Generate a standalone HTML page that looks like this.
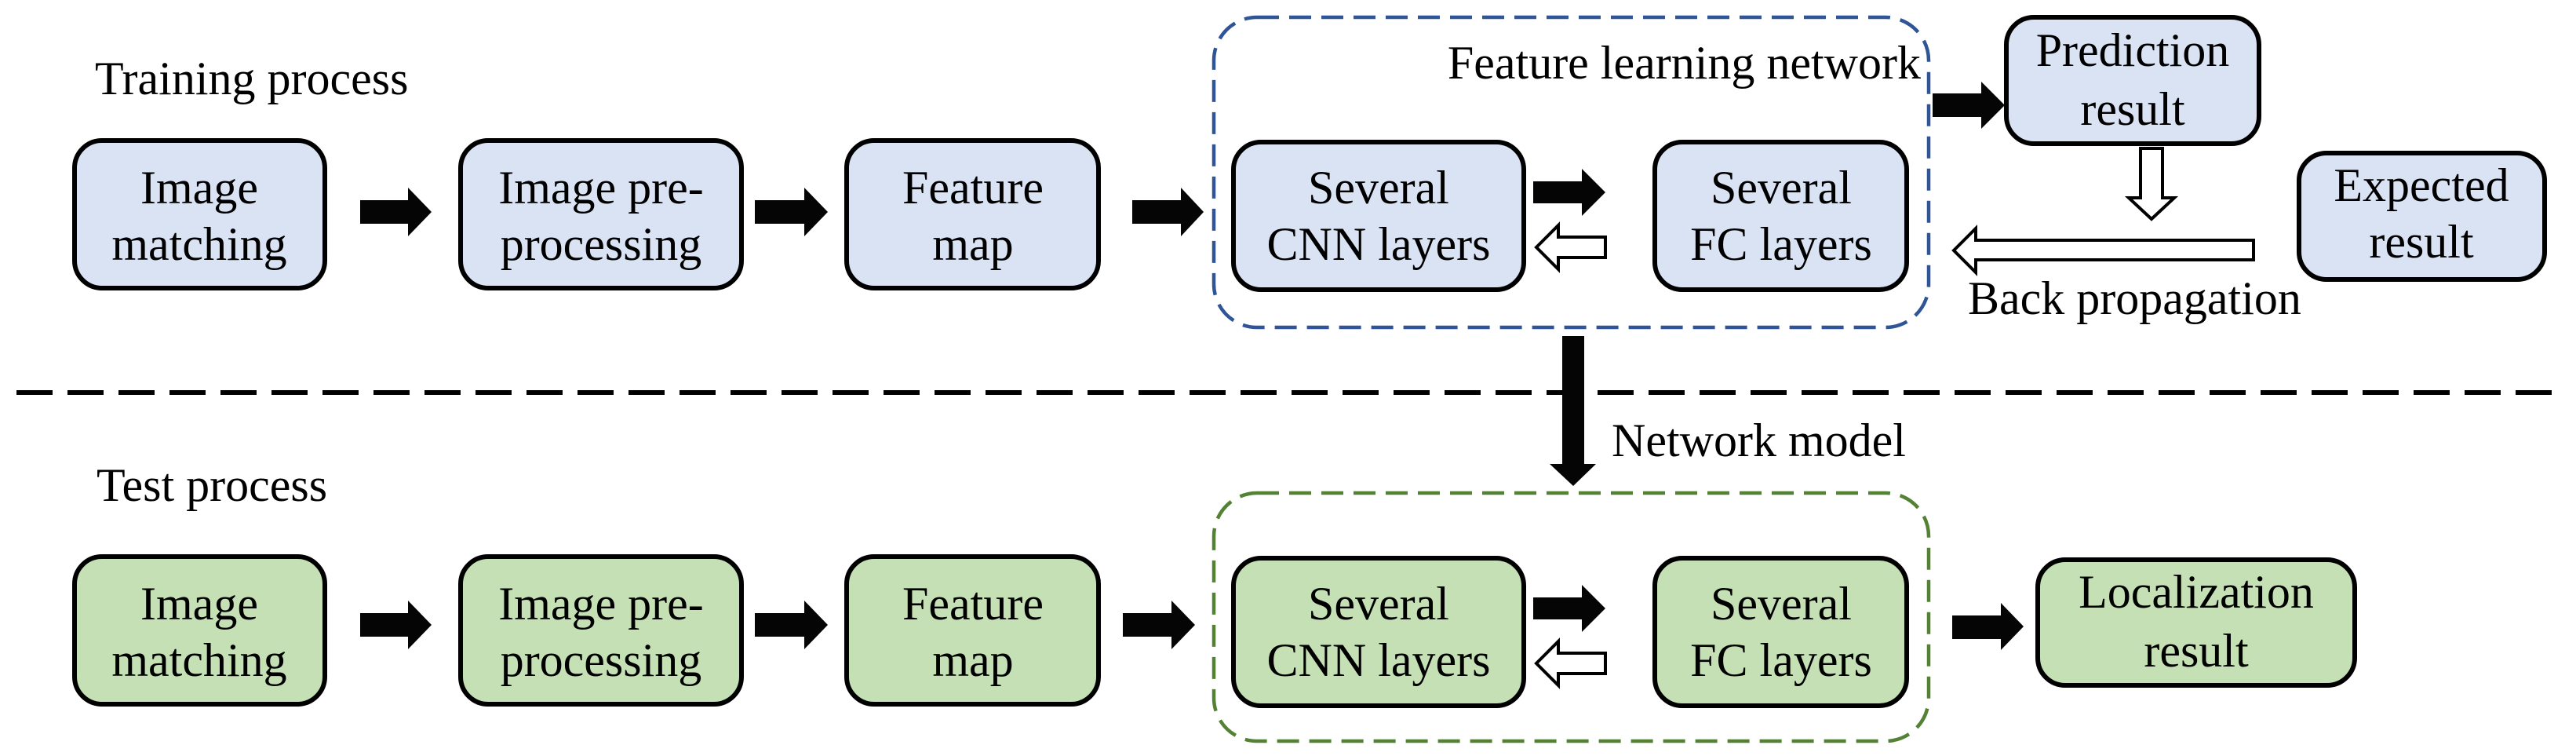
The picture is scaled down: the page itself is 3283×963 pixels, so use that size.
<!DOCTYPE html>
<html><head><meta charset="utf-8"><style>html,body{margin:0;padding:0;background:#fff}svg{display:block}svg text{font-family:"Liberation Serif","Times New Roman",serif;font-size:60px}</style></head><body>
<svg width="3283" height="963" viewBox="0 0 3283 963" xmlns="http://www.w3.org/2000/svg" fill="#000">
<rect x="1547" y="22" width="911" height="395" rx="55" fill="none" stroke="#2f5597" stroke-width="4.5" stroke-dasharray="28,13"/>
<rect x="1547" y="628" width="911" height="316" rx="55" fill="none" stroke="#548235" stroke-width="4.5" stroke-dasharray="28,13"/>
<line x1="21" y1="500" x2="3262" y2="500" stroke="#000" stroke-width="6" stroke-dasharray="46,19"/>
<g stroke="#000" stroke-width="6">
<rect x="95" y="179" width="319" height="188" rx="35" fill="#dae3f3"/>
<rect x="587" y="179" width="358" height="188" rx="35" fill="#dae3f3"/>
<rect x="1079" y="179" width="321" height="188" rx="35" fill="#dae3f3"/>
<rect x="1572" y="181" width="370" height="188" rx="35" fill="#dae3f3"/>
<rect x="2109" y="181" width="321" height="188" rx="35" fill="#dae3f3"/>
<rect x="2557" y="22" width="322" height="161" rx="35" fill="#dae3f3"/>
<rect x="2930" y="195" width="313" height="161" rx="35" fill="#dae3f3"/>
<rect x="95" y="709" width="319" height="188" rx="35" fill="#c5e0b4"/>
<rect x="587" y="709" width="358" height="188" rx="35" fill="#c5e0b4"/>
<rect x="1079" y="709" width="321" height="188" rx="35" fill="#c5e0b4"/>
<rect x="1572" y="711" width="370" height="188" rx="35" fill="#c5e0b4"/>
<rect x="2109" y="711" width="321" height="188" rx="35" fill="#c5e0b4"/>
<rect x="2597" y="713" width="404" height="160" rx="35" fill="#c5e0b4"/>
</g>
<g fill="#050505">
<polygon points="459,255 520,255 520,239 550,270 520,301 520,285 459,285"/>
<polygon points="962,255 1025,255 1025,239 1055,270 1025,301 1025,285 962,285"/>
<polygon points="1443,255 1505,255 1505,239 1534,270 1505,301 1505,285 1443,285"/>
<polygon points="1954,231 2016,231 2016,215 2046,245 2016,275 2016,259 1954,259"/>
<polygon points="2463,119 2525,119 2525,104 2555,134 2525,164 2525,149 2463,149"/>
<polygon points="1991,428 2019,428 2019,591 2034,591 2005,619 1975,591 1991,591"/>
<polygon points="459,781 520,781 520,765 550,796 520,827 520,811 459,811"/>
<polygon points="962,781 1025,781 1025,765 1055,796 1025,827 1025,811 962,811"/>
<polygon points="1431,781 1493,781 1493,765 1523,796 1493,827 1493,811 1431,811"/>
<polygon points="1954,761 2016,761 2016,745 2046,775 2016,805 2016,789 1954,789"/>
<polygon points="2488,784 2550,784 2550,768 2579,798 2550,828 2550,814 2488,814"/>
</g>
<g fill="#fff" stroke="#000" stroke-width="4">
<polygon points="1958,315 1986,287 1986,302 2046,302 2046,328 1986,328 1986,343"/>
<polygon points="1958,845 1986,817 1986,832 2046,832 2046,858 1986,858 1986,873"/>
<polygon points="2728,189 2756,189 2756,252 2771,252 2742,279 2713,252 2728,252"/>
<polygon points="2490,319 2518,291 2518,306 2872,306 2872,331 2518,331 2518,347"/>
</g>
<text x="121" y="120">Training process</text>
<text x="123" y="638">Test process</text>
<text x="2448" y="100" text-anchor="end">Feature learning network</text>
<text x="2054" y="581">Network model</text>
<text x="2508" y="400">Back propagation</text>
<g text-anchor="middle">
<text x="254" y="259">Image</text><text x="254" y="331">matching</text>
<text x="766" y="259">Image pre-</text><text x="766" y="331">processing</text>
<text x="1240" y="259">Feature</text><text x="1240" y="331">map</text>
<text x="1757" y="259">Several</text><text x="1757" y="331">CNN layers</text>
<text x="2270" y="259">Several</text><text x="2270" y="331">FC layers</text>
<text x="2718" y="84">Prediction</text><text x="2718" y="159">result</text>
<text x="3086" y="256">Expected</text><text x="3086" y="328">result</text>
<text x="254" y="789">Image</text><text x="254" y="861">matching</text>
<text x="766" y="789">Image pre-</text><text x="766" y="861">processing</text>
<text x="1240" y="789">Feature</text><text x="1240" y="861">map</text>
<text x="1757" y="789">Several</text><text x="1757" y="861">CNN layers</text>
<text x="2270" y="789">Several</text><text x="2270" y="861">FC layers</text>
<text x="2799" y="774">Localization</text><text x="2799" y="849">result</text>
</g>
</svg>
</body></html>
